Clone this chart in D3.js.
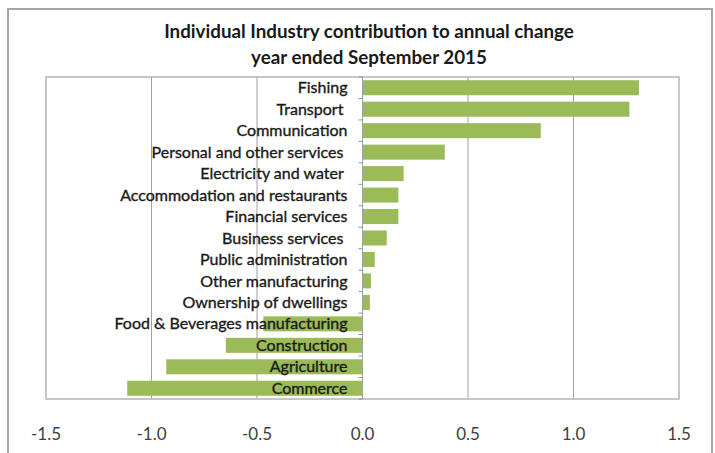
<!DOCTYPE html>
<html>
<head>
<meta charset="utf-8">
<script src="https://cdn.jsdelivr.net/npm/d3@7/dist/d3.min.js"></script>
<style>
  html, body { margin: 0; padding: 0; background: #fff; }
  svg { display: block; }
  text { font-family: Lato, "Open Sans", sans-serif; }
</style>
</head>
<body>
<svg id="chart" width="715" height="453"></svg>
<script>
// Industries, top to bottom
const industries = [
  "Fishing",
  "Transport ",
  "Communication",
  "Personal and other services ",
  "Electricity and water ",
  "Accommodation and restaurants",
  "Financial services",
  "Business services ",
  "Public administration",
  "Other manufacturing",
  "Ownership of dwellings",
  "Food & Beverages manufacturing",
  "Construction",
  "Agriculture",
  "Commerce"
];

// Contribution to annual change (percentage points)
const contributions = [
  1.31, 1.265, 0.845, 0.39, 0.195, 0.17, 0.17, 0.115,
  0.058, 0.04, 0.035, -0.47, -0.648, -0.93, -1.115
];

const xTicks = [-1.5, -1.0, -0.5, 0.0, 0.5, 1.0, 1.5];
const titleLines = [
  "Individual Industry contribution to annual change",
  "year ended September 2015"
];

const rows = industries.map((name, i) => ({ name, value: contributions[i] }));

const svg = d3.select("#chart");
const plot = { left: 46, right: 679, top: 77, bottom: 399 };

// Outer chart border
svg.append("rect")
  .attr("x", 8).attr("y", 9)
  .attr("width", 704).attr("height", 460)
  .attr("fill", "#fff")
  .attr("stroke", "#a6a6a6")
  .attr("stroke-width", 2);

// Title
svg.append("g")
  .selectAll("text")
  .data(titleLines)
  .join("text")
  .attr("x", 369)
  .attr("y", (d, i) => 38 + i * 26)
  .attr("text-anchor", "middle")
  .attr("font-size", 18.8)
  .attr("font-weight", "bold")
  .attr("fill", "#1a1a1a")
  .text(d => d);

const x = d3.scaleLinear().domain([-1.5, 1.5]).range([plot.left, plot.right]);
const y = d3.scaleBand()
  .domain(industries)
  .range([plot.top, plot.bottom])
  .paddingInner(0.3)
  .paddingOuter(0.15);

// Vertical gridlines
svg.append("g")
  .selectAll("line")
  .data(xTicks.filter(t => t !== 0 && Math.abs(t) !== 1.5))
  .join("line")
  .attr("x1", d => x(d)).attr("x2", d => x(d))
  .attr("y1", plot.top).attr("y2", plot.bottom)
  .attr("stroke", "#a0a0a0")
  .attr("stroke-width", 1);

// Plot area frame
svg.append("rect")
  .attr("x", plot.left).attr("y", plot.top)
  .attr("width", plot.right - plot.left)
  .attr("height", plot.bottom - plot.top)
  .attr("fill", "none")
  .attr("stroke", "#b4b4b4")
  .attr("stroke-width", 1.5);

// Bars
svg.append("g")
  .selectAll("rect")
  .data(rows)
  .join("rect")
  .attr("x", d => x(Math.min(0, d.value)))
  .attr("y", d => y(d.name))
  .attr("width", d => Math.abs(x(d.value) - x(0)))
  .attr("height", y.bandwidth())
  .attr("fill", "#9bbb59");

// Category axis at zero with tick marks between categories
const boundaries = d3.range(industries.length + 1).map(i => plot.top + i * (plot.bottom - plot.top) / industries.length);
svg.append("line")
  .attr("x1", x(0)).attr("x2", x(0))
  .attr("y1", plot.top).attr("y2", plot.bottom)
  .attr("stroke", "#a0a0a0")
  .attr("stroke-width", 1);
svg.append("g")
  .selectAll("line")
  .data(boundaries)
  .join("line")
  .attr("x1", x(0) - 4).attr("x2", x(0))
  .attr("y1", d => d).attr("y2", d => d)
  .attr("stroke", "#8a94a6")
  .attr("stroke-width", 1);

// Category labels, right-aligned left of the zero line
svg.append("g")
  .selectAll("text")
  .data(rows)
  .join("text")
  .attr("x", x(0) - 15)
  .attr("y", d => y(d.name) + y.bandwidth() / 2)
  .attr("dy", "0.35em")
  .attr("text-anchor", "end")
  .attr("font-size", 16)
  .attr("fill", "#1a1a1a")
  .attr("stroke", "#1a1a1a")
  .attr("stroke-width", 0.35)
  .style("white-space", "pre")
  .text(d => d.name);

// Value axis labels
svg.append("g")
  .selectAll("text")
  .data(xTicks)
  .join("text")
  .attr("x", d => x(d))
  .attr("y", 440)
  .attr("text-anchor", "middle")
  .attr("font-size", 17)
  .attr("fill", "#404040")
  .text(d => d.toFixed(1));
</script>
</body>
</html>
